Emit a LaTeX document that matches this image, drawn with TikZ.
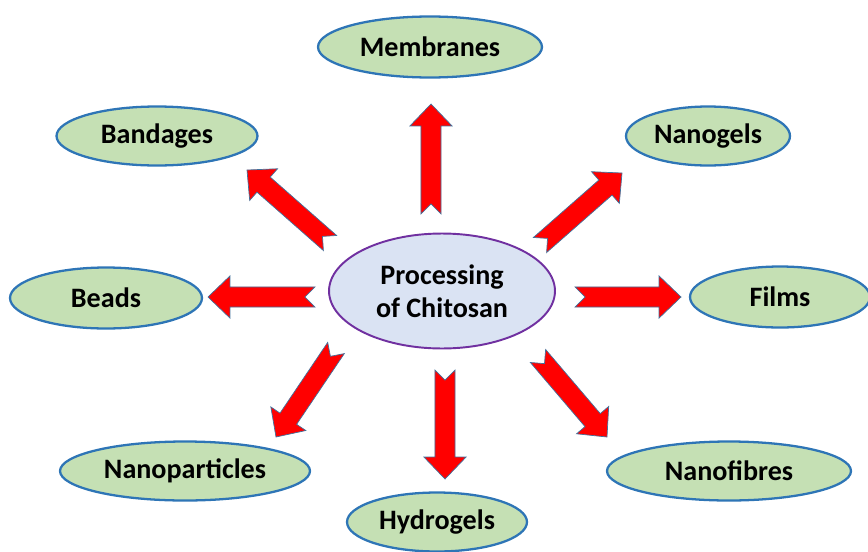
\documentclass[tikz,border=0pt]{standalone}
\usepackage{fontspec}
\setmainfont{Carlito}
\usetikzlibrary{shapes.geometric,calc}

\definecolor{leafgreen}{HTML}{C5E0B4}
\definecolor{rimblue}{HTML}{2E75B6}
\definecolor{paleblue}{HTML}{DAE3F3}
\definecolor{hubpurple}{HTML}{7030A0}
\definecolor{edgeblue}{HTML}{41719C}

% block arrow with notched tail, from tail point #1 to tip #2
\newcommand{\fatarrow}[2]{%
  \path[fatarrow] let \p1=(#1), \p2=(#2),
      \n1={atan2(\y2-\y1,\x2-\x1)},
      \n2={veclen(\x2-\x1,\y2-\y1)-12.5pt},
      \p3=($(\p1)+(\n1:\n2)$) in
    ($(\p1)+(\n1+90:5.7pt)$) -- ($(\p3)+(\n1+90:5.7pt)$)
    -- ($(\p3)+(\n1+90:12pt)$) -- (\p2)
    -- ($(\p3)+(\n1-90:12pt)$) -- ($(\p3)+(\n1-90:5.7pt)$)
    -- ($(\p1)+(\n1-90:5.7pt)$) -- ($(\p1)+(\n1:5.7pt)$) -- cycle;}

\begin{document}
\begin{tikzpicture}
        [x=0.02cm,y=-0.02cm,
         leaf/.style={ellipse,draw=rimblue,line width=1.3pt,fill=leafgreen,
           inner sep=0pt,font=\fontsize{16}{19}\selectfont\bfseries},
         hub/.style={ellipse,draw=hubpurple,line width=1.1pt,fill=paleblue,
           inner sep=0pt,align=center,font=\fontsize{16}{18.5}\selectfont\bfseries},
         fatarrow/.style={fill=red,draw=edgeblue,line width=0.4pt}]
        \useasboundingbox (0,0) rectangle (868,551);

        \node[hub,minimum width=4.52cm,minimum height=2.3cm] (chitosan) at (442,291) {Processing\\of Chitosan};

        \node[leaf,minimum width=4.48cm,minimum height=1.22cm] (membranes) at (430,47) {Membranes};
        \node[leaf,minimum width=4.02cm,minimum height=1.18cm] (bandages) at (157,136) {Bandages};
        \node[leaf,minimum width=3.28cm,minimum height=1.18cm] (nanogels) at (708,136) {Nanogels};
        \node[leaf,minimum width=3.84cm,minimum height=1.22cm] (beads) at (106,298) {Beads};
        \node[leaf,minimum width=3.6cm,minimum height=1.22cm] (films) at (780,297) {Films};
        \node[leaf,minimum width=5.0cm,minimum height=1.18cm] (nanoparticles) at (185,471) {Nanoparticles};
        \node[leaf,minimum width=3.6cm,minimum height=1.18cm] (hydrogels) at (437,522) {Hydrogels};
        \node[leaf,minimum width=4.88cm,minimum height=1.18cm] (nanofibres) at (729,471) {Nanofibres};

        % tails and tips of the arrows
        \coordinate (memT) at (431,214);  \coordinate (memH) at (431,104);
        \coordinate (banT) at (330,243);  \coordinate (banH) at (247,170);
        \coordinate (ngT) at (540,245);   \coordinate (ngH) at (622,173);
        \coordinate (bdT) at (315,297);   \coordinate (bdH) at (208,297);
        \coordinate (filT) at (575,297);  \coordinate (filH) at (681,297);
        \coordinate (npT) at (336,348);   \coordinate (npH) at (276,437);
        \coordinate (hyT) at (445,370);   \coordinate (hyH) at (445,479);
        \coordinate (nfT) at (538,356);   \coordinate (nfH) at (607,437);

        \foreach \t/\h in {memT/memH,banT/banH,ngT/ngH,bdT/bdH,filT/filH,npT/npH,hyT/hyH,nfT/nfH}
        {\fatarrow{\t}{\h}}
      \end{tikzpicture}
\end{document}
